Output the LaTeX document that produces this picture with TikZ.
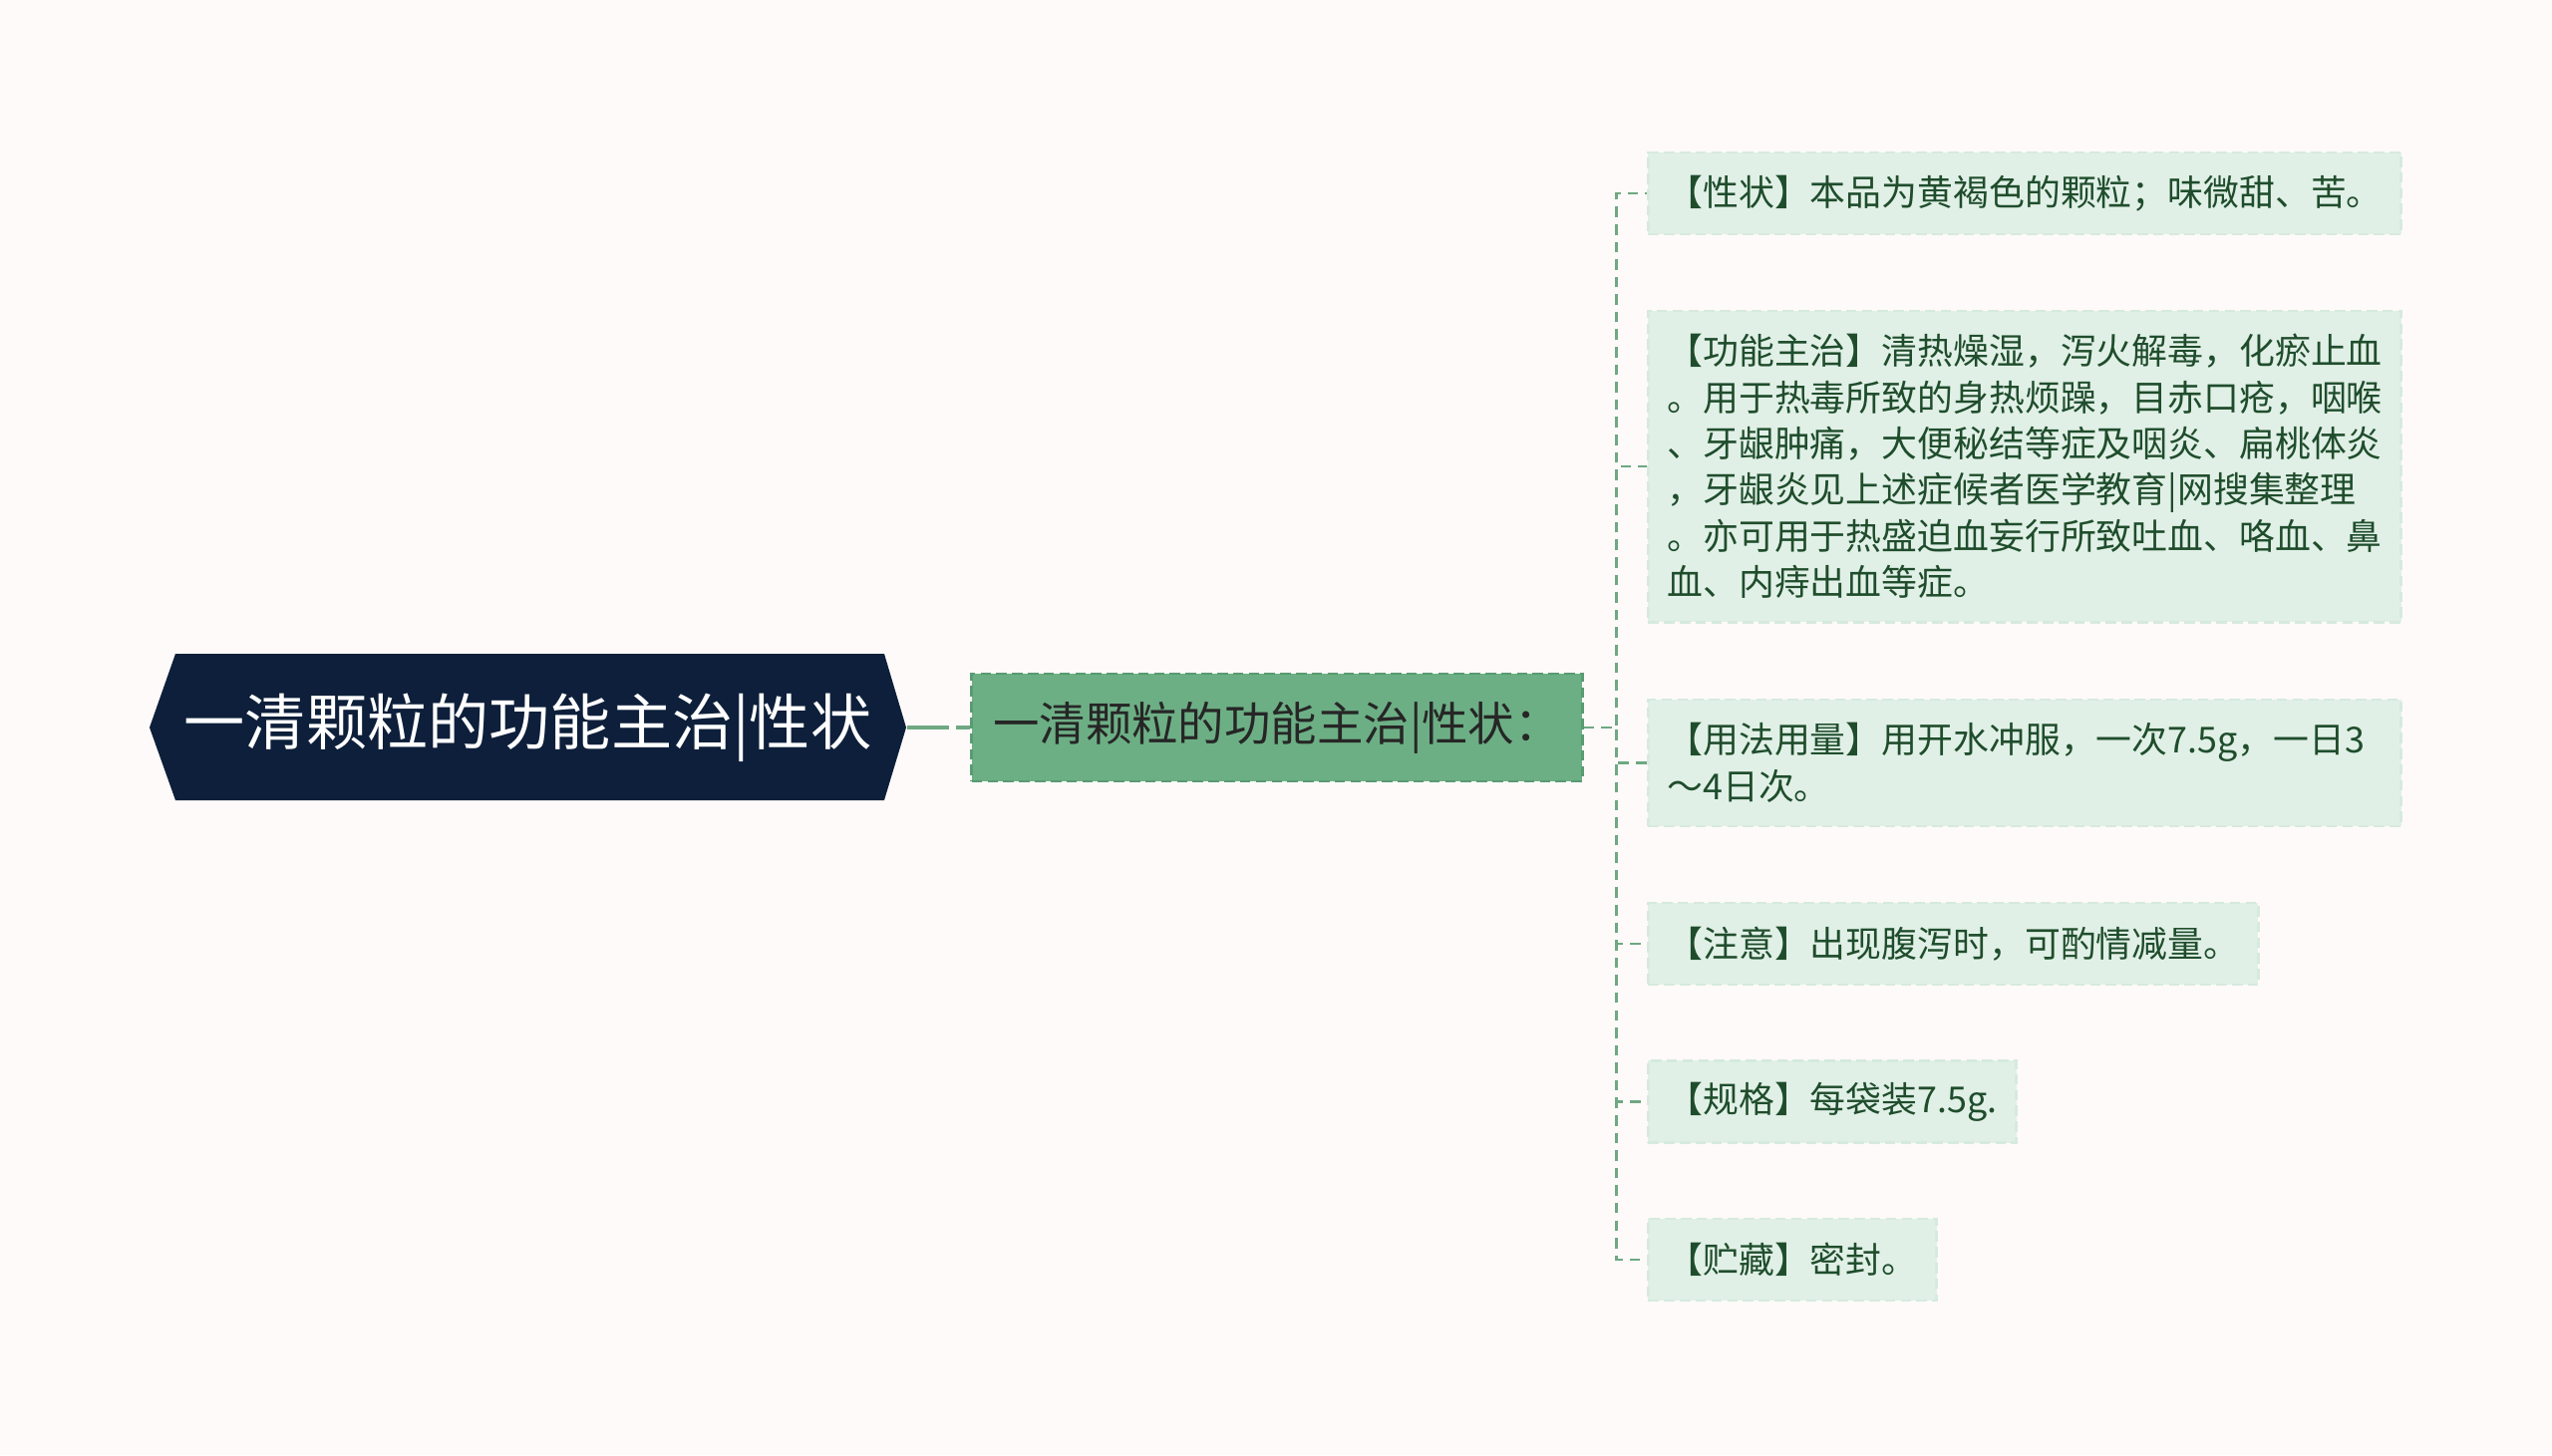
\documentclass[tikz,border=0pt]{standalone}
\usepackage{fontspec}
\setmainfont{Noto Sans CJK SC}
\definecolor{paper}{HTML}{FDFAF9}
\definecolor{navy}{HTML}{0D1F3A}
\definecolor{midgreen}{HTML}{6DAF85}
\definecolor{midline}{HTML}{5A9B72}
\definecolor{leaffill}{HTML}{E1F0E7}
\definecolor{leafline}{HTML}{D6EADD}
\definecolor{leaftext}{HTML}{1F4D2C}
\definecolor{linkgreen}{HTML}{6FA882}
\tikzset{>=stealth,
  rootbox/.style={minimum width=7.59cm, minimum height=1.47cm, inner sep=0pt,
    text=white, font=\fontsize{17.4}{20}\selectfont},
  midbox/.style={fill=midgreen, draw=midline, line width=0.8pt, dash pattern=on 3pt off 1.5pt,
    minimum width=6.12cm, minimum height=1.08cm, inner sep=0pt,
    text=black!85, font=\fontsize{13.2}{16}\selectfont},
  leaf/.style={fill=leaffill, draw=leafline, line width=0.8pt, dash pattern=on 3pt off 1.5pt,
    anchor=west, inner xsep=0.19cm, inner ysep=0pt, minimum height=0.82cm, align=left,
    text=leaftext, font=\fontsize{10.2}{13.2}\selectfont},
  wideleaf/.style={leaf, text width=7.17cm},
  link/.style={linkgreen, line width=0.75pt, dash pattern=on 3pt off 2pt},
  rootlink/.style={linkgreen, line width=1.3pt, dash pattern=on 12pt off 2pt}}

\begin{document}
\begin{tikzpicture}[x=0.01cm, y=-0.01cm]
\useasboundingbox (0,0) rectangle (2560,1460);
\fill[paper] (0,0) rectangle (2560,1460);

% root
\fill[navy] (150,730) -- (176,656) -- (887,656) -- (909,730) -- (887,803) -- (176,803) -- cycle;
\node[rootbox] (root) at (529.5,730) {一清颗粒的功能主治|性状};

% middle topic
\node[midbox] (mid) at (1281,730) {一清颗粒的功能主治|性状：};

% leaves
\node[wideleaf] (l1) at (1652,194) {【性状】本品为黄褐色的颗粒；味微甜、苦。};
\node[wideleaf, minimum height=3.12cm] (l2) at (1652,468) {【功能主治】清热燥湿，泻火解毒，化瘀止血\\
。用于热毒所致的身热烦躁，目赤口疮，咽喉\\
、牙龈肿痛，大便秘结等症及咽炎、扁桃体炎\\
，牙龈炎见上述症候者医学教育|网搜集整理\\
。亦可用于热盛迫血妄行所致吐血、咯血、鼻\\
血、内痔出血等症。};
\node[wideleaf, minimum height=1.27cm] (l3) at (1652,765.5) {【用法用量】用开水冲服，一次7.5g，一日3\\
～4日次。};
\node[leaf] (l4) at (1652,947) {【注意】出现腹泻时，可酌情减量。};
\node[leaf] (l5) at (1652,1105.5) {【规格】每袋装7.5g.};
\node[leaf] (l6) at (1652,1264) {【贮藏】密封。};

% connectors
\draw[rootlink] (root.east) -- (mid.west);
\foreach \i in {1,...,6}
  \draw[link] (mid.east) -- ++(33,0) |- (l\i.west);
\end{tikzpicture}
\end{document}
